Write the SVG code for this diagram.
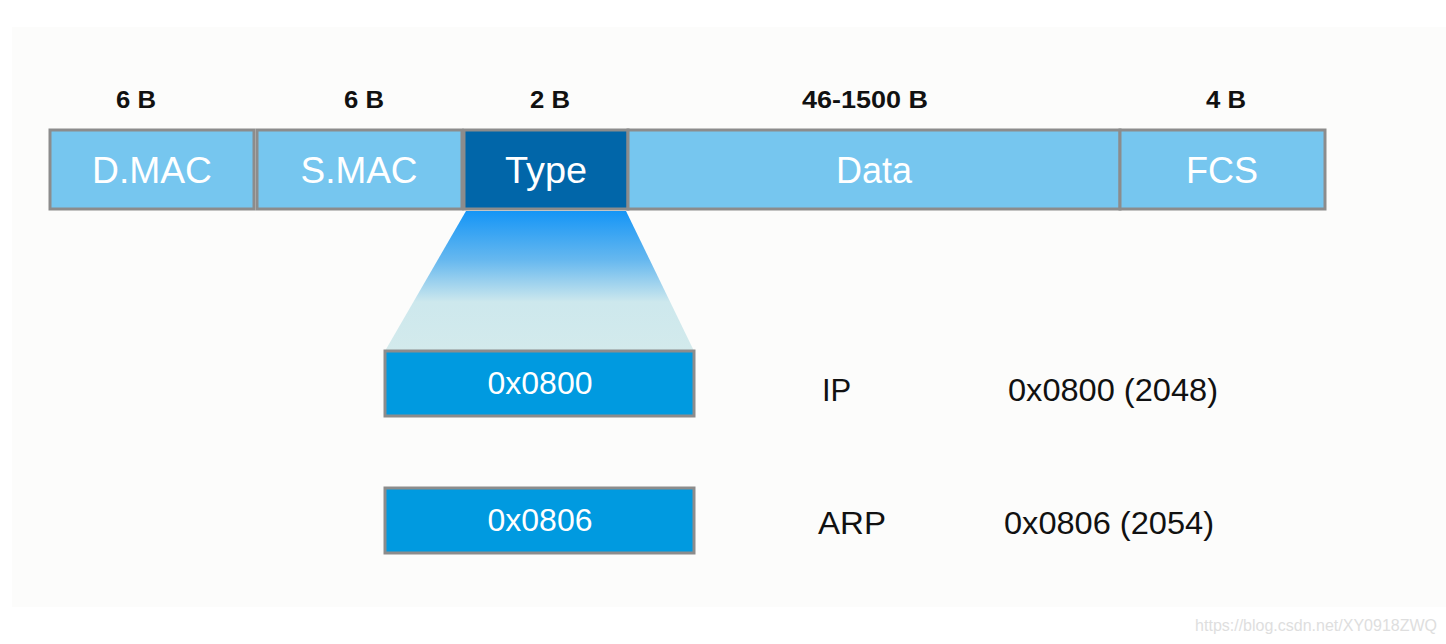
<svg xmlns="http://www.w3.org/2000/svg" width="1446" height="644" viewBox="0 0 1446 644">
<style>
.f{stroke:#8c8c8c;stroke-width:3}
.lb{fill:#76c6ef}
.w{fill:#fff;font-family:"Liberation Sans",Arial,sans-serif;font-size:36px;text-anchor:middle}
.sz{fill:#111;font-family:"Liberation Sans",Arial,sans-serif;font-size:23px;font-weight:bold;text-anchor:middle}
.v{fill:#fff;font-family:"Liberation Sans",Arial,sans-serif;font-size:31px;text-anchor:middle}
.k{fill:#111;font-family:"Liberation Sans",Arial,sans-serif;font-size:31px}
</style>
<defs>
<linearGradient id="g" x1="0" y1="0" x2="0" y2="1">
<stop offset="0" stop-color="#1595f6"/>
<stop offset="0.35" stop-color="#66b8ef"/>
<stop offset="0.65" stop-color="#cde8ed"/>
<stop offset="1" stop-color="#d3eaec"/>
</linearGradient>
</defs>
<rect width="1446" height="644" fill="#ffffff"/>
<rect x="12" y="27" width="1434" height="580" fill="#fcfcfb"/>
<g id="sizes">
<text class="sz" x="136" y="108" textLength="40" lengthAdjust="spacingAndGlyphs">6 B</text>
<text class="sz" x="364" y="108" textLength="40" lengthAdjust="spacingAndGlyphs">6 B</text>
<text class="sz" x="550" y="108" textLength="40" lengthAdjust="spacingAndGlyphs">2 B</text>
<text class="sz" x="865" y="108" textLength="126" lengthAdjust="spacingAndGlyphs">46-1500 B</text>
<text class="sz" x="1226" y="108" textLength="40" lengthAdjust="spacingAndGlyphs">4 B</text>
</g>
<g id="connectors">
<polygon points="466,211 626,211 694,351 385,351" fill="url(#g)"/>
</g>
<g id="dmac"><rect class="f lb" x="50" y="130" width="204" height="79"/><text class="w" x="152" y="183" textLength="120" lengthAdjust="spacingAndGlyphs">D.MAC</text></g>
<g id="smac"><rect class="f lb" x="257" y="130" width="205" height="79"/><text class="w" x="359" y="183" textLength="117" lengthAdjust="spacingAndGlyphs">S.MAC</text></g>
<g id="type"><rect class="f" fill="#0166a9" x="464" y="130" width="164" height="79"/><text class="w" x="546" y="183" textLength="82" lengthAdjust="spacingAndGlyphs">Type</text></g>
<g id="data"><rect class="f lb" x="628" y="130" width="492" height="79"/><text class="w" x="874" y="183" textLength="76" lengthAdjust="spacingAndGlyphs">Data</text></g>
<g id="fcs"><rect class="f lb" x="1120" y="130" width="205" height="79"/><text class="w" x="1222" y="183" textLength="72" lengthAdjust="spacingAndGlyphs">FCS</text></g>
<g id="ip"><rect class="f" fill="#009ae0" x="385" y="351" width="309" height="65"/><text class="v" x="540" y="394" textLength="105" lengthAdjust="spacingAndGlyphs">0x0800</text></g>
<g id="arp"><rect class="f" fill="#009ae0" x="385" y="488" width="309" height="65"/><text class="v" x="540" y="531" textLength="105" lengthAdjust="spacingAndGlyphs">0x0806</text></g>
<g id="labels">
<text class="k" x="822" y="401">IP</text>
<text class="k" x="1008" y="401" textLength="210" lengthAdjust="spacingAndGlyphs">0x0800 (2048)</text>
<text class="k" x="818" y="534" textLength="68" lengthAdjust="spacingAndGlyphs">ARP</text>
<text class="k" x="1004" y="534" textLength="210" lengthAdjust="spacingAndGlyphs">0x0806 (2054)</text>
</g>
<text x="1437" y="631" fill="#dedede" font-family="Liberation Sans,Arial,sans-serif" font-size="16" text-anchor="end">https://blog.csdn.net/XY0918ZWQ</text>
</svg>
